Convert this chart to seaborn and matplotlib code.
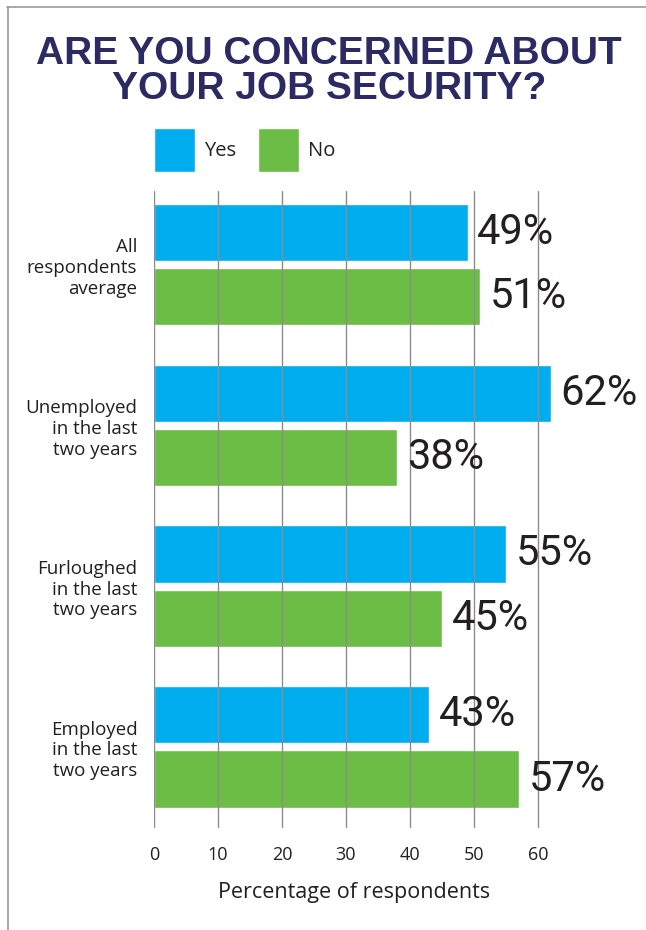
import matplotlib
matplotlib.use("Agg")
import matplotlib.pyplot as plt
from matplotlib.lines import Line2D
import seaborn as sns
import pandas as pd

# Survey results
categories = [
    "All\nrespondents\naverage",
    "Unemployed\nin the last\ntwo years",
    "Furloughed\nin the last\ntwo years",
    "Employed\nin the last\ntwo years",
]
yes_values = [49, 62, 55, 43]
no_values = [51, 38, 45, 57]
series_names = ["Yes", "No"]
x_ticks = [0, 10, 20, 30, 40, 50, 60]

YES_COLOR = "#00AEEF"
NO_COLOR = "#6CBD45"
TITLE_COLOR = "#2B2A63"
TEXT_COLOR = "#231F20"
GRID_COLOR = "#8C8C8C"

df = pd.DataFrame({
    "Group": categories * 2,
    "Response": [series_names[0]] * len(categories) + [series_names[1]] * len(categories),
    "Percent": yes_values + no_values,
})

sns.set_theme(style="white")
plt.rcParams["font.family"] = ["Open Sans", "DejaVu Sans"]
plt.rcParams["text.color"] = TEXT_COLOR

W, H = 646, 930
fig = plt.figure(figsize=(W / 100, H / 100), dpi=100)
fig.patch.set_facecolor("white")

ax_left, ax_right, ax_top, ax_bottom = 154, 554, 191, 828
ax = fig.add_axes([ax_left / W, 1 - ax_bottom / H,
                   (ax_right - ax_left) / W, (ax_bottom - ax_top) / H])

sns.barplot(data=df, y="Group", x="Percent", hue="Response", orient="h",
            palette={"Yes": YES_COLOR, "No": NO_COLOR}, width=0.8, gap=0.11,
            saturation=1, ax=ax, legend=True)

handles, labels = ax.get_legend_handles_labels()
ax.get_legend().remove()

# Value labels at the end of each bar
for container, vals in zip(ax.containers, [yes_values, no_values]):
    ax.bar_label(container, labels=[f"{v}%" for v in vals], padding=7,
                 fontsize=30, color=TEXT_COLOR, zorder=4,
                 family=["Roboto", "DejaVu Sans"])

ax.set_xlim(0, 62.5)
ax.set_ylim(3.504, -0.457)
ax.set_xticks(x_ticks)
ax.set_xticklabels([str(t) for t in x_ticks])
# grid lines run over the bars
ax.xaxis.grid(True, color=GRID_COLOR, linewidth=1.0)
ax.set_axisbelow(False)
for s in ax.spines.values():
    s.set_visible(False)
ax.tick_params(axis="x", length=0, pad=13, labelsize=13, labelcolor=TEXT_COLOR)
ax.tick_params(axis="y", length=0, pad=12, labelsize=13.5, labelcolor=TEXT_COLOR)
for lbl in ax.get_yticklabels():
    lbl.set_linespacing(1.2)
ax.set_ylabel("")
ax.set_xlabel("Percentage of respondents", fontsize=15.5, labelpad=13, color=TEXT_COLOR)

# Legend above the plot
fig.legend(handles, labels, loc="upper left",
           bbox_to_anchor=(154 / W, 1 - 128 / H), frameon=False, ncol=2,
           fontsize=14.5, handlelength=2.05, handleheight=3.0, handletextpad=0.45,
           columnspacing=1.05, borderpad=0, borderaxespad=0)

# Title
title_font = dict(family=["Liberation Sans", "DejaVu Sans"], fontweight="bold",
                  fontsize=28, color=TITLE_COLOR, ha="center", va="baseline")
fig.text(329 / W, 1 - 64 / H, "ARE YOU CONCERNED ABOUT", **title_font)
fig.text(329 / W, 1 - 99 / H, "YOUR JOB SECURITY?", **title_font)

# Frame lines along the top and left edges
fig.add_artist(Line2D([7 / W, 1], [1 - 7 / H, 1 - 7 / H], color="#9A9A9A", lw=1.2,
                      transform=fig.transFigure))
fig.add_artist(Line2D([8 / W, 8 / W], [0, 1 - 7 / H], color="#9A9A9A", lw=1.2,
                      transform=fig.transFigure))

fig.savefig("out.png", dpi=100)
